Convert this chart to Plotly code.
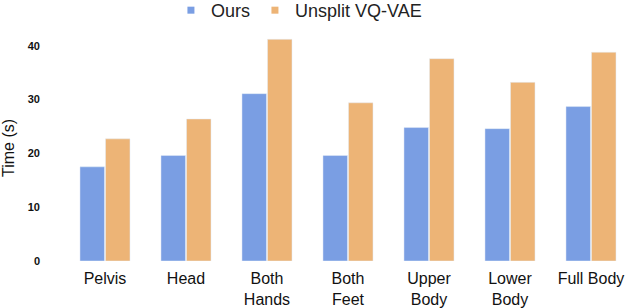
import plotly.graph_objects as go

categories = ["Pelvis", "Head", "Both<br>Hands", "Both<br>Feet", "Upper<br>Body", "Lower<br>Body", "Full Body"]
ours = [17.5, 19.6, 31.1, 19.6, 24.8, 24.6, 28.7]
unsplit = [22.7, 26.4, 41.2, 29.4, 37.6, 33.2, 38.8]
y_ticks = [0, 10, 20, 30, 40]
series_names = ["Ours", "Unsplit VQ-VAE"]
colors = ["#7A9EE3", "#EDB476"]

fig = go.Figure()
fig.add_trace(go.Bar(x=categories, y=ours, name=series_names[0], marker_color=colors[0], showlegend=False))
fig.add_trace(go.Bar(x=categories, y=unsplit, name=series_names[1], marker_color=colors[1], showlegend=False))
for nm, c in zip(series_names, colors):
    fig.add_trace(go.Scatter(x=[None], y=[None], mode="markers", name=nm,
                             marker=dict(symbol="square", size=7, color=c)))

fig.update_layout(
    width=628, height=308,
    margin=dict(l=64, r=0, t=35, b=47),
    paper_bgcolor="white", plot_bgcolor="white",
    barmode="group", bargap=0.37, bargroupgap=0.04,
    font=dict(family="Liberation Sans, Arial, sans-serif", color="#111111"),
    showlegend=True,
    legend=dict(orientation="h", x=0.476, xanchor="center", y=0.966, yanchor="middle",
                xref="container", yref="container", font=dict(size=18, color="#222222"),
                itemwidth=30, traceorder="normal"),
)
fig.update_xaxes(range=[-0.506, 6.457], showline=False, showgrid=False, ticks="",
                 automargin=False, ticklabelstandoff=6,
                 tickfont=dict(size=16, color="#111111"))
fig.update_yaxes(range=[0, 42], tickvals=y_ticks, showgrid=False, zeroline=False, showline=False,
                 automargin=False,
                 tickfont=dict(size=11, color="#111111", family="Liberation Sans, Arial, sans-serif", weight="bold"),
                 ticklabelstandoff=23,
                 title=dict(text="Time (s)", font=dict(size=16), standoff=10))

fig.write_html("out.html", config={"displayModeBar": False},
               post_script="document.body.style.margin='0';")
